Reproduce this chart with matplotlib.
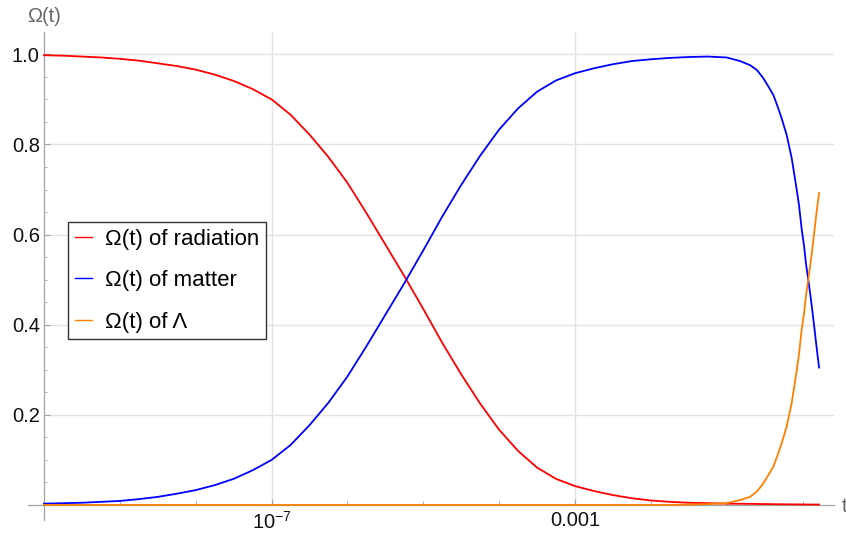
import numpy as np
import matplotlib
matplotlib.use('Agg')
import matplotlib.pyplot as plt
from matplotlib.ticker import FixedLocator, NullFormatter

plt.rcParams['font.family'] = ['Liberation Sans', 'DejaVu Sans']
plt.rcParams['mathtext.fontset'] = 'custom'
plt.rcParams['mathtext.rm'] = 'Liberation Sans'

# ── data: log10(t) and the three Omega(t) curves ──
log_t = [-10.0, -9.75, -9.5, -9.25, -9.0, -8.75, -8.5, -8.25, -8.0, -7.75,
         -7.5, -7.25, -7.0, -6.75, -6.5, -6.25, -6.0, -5.75, -5.5, -5.25,
         -5.0, -4.75, -4.5, -4.25, -4.0, -3.75, -3.5, -3.25, -3.0, -2.75,
         -2.5, -2.25, -2.0, -1.75, -1.5, -1.25, -1.0,
         -0.824, -0.692, -0.60, -0.517, -0.455, -0.385, -0.33, -0.275, -0.209, -0.143,
         -0.077, -0.046, -0.011, 0.02, 0.046, 0.076, 0.112, 0.148, 0.182, 0.218]

omega_rad = [0.998, 0.997, 0.995, 0.993, 0.990, 0.986, 0.980, 0.974, 0.966, 0.955,
             0.941, 0.923, 0.900, 0.866, 0.822, 0.772, 0.715, 0.648, 0.578, 0.508,
             0.435, 0.360, 0.290, 0.225, 0.167, 0.120, 0.083, 0.058, 0.042, 0.031,
             0.022, 0.015, 0.010, 0.007, 0.005, 0.004, 0.003,
             0.0027, 0.0025, 0.0023, 0.002, 0.002, 0.0018, 0.0017, 0.0016, 0.0015, 0.0014,
             0.0013, 0.0013, 0.0012, 0.0012, 0.0011, 0.0011, 0.001, 0.001, 0.001, 0.001]

omega_mat = [0.003, 0.004, 0.005, 0.007, 0.009, 0.013, 0.018, 0.025, 0.033, 0.044,
             0.058, 0.077, 0.100, 0.133, 0.177, 0.227, 0.285, 0.352, 0.422, 0.492,
             0.565, 0.640, 0.710, 0.775, 0.833, 0.880, 0.917, 0.942, 0.958, 0.969,
             0.978, 0.985, 0.989, 0.992, 0.994, 0.995, 0.993,
             0.985, 0.976, 0.965, 0.947, 0.930, 0.910, 0.885, 0.858, 0.821, 0.770,
             0.700, 0.665, 0.612, 0.575, 0.535, 0.500, 0.455, 0.405, 0.355, 0.305]

omega_lam = [0.0, 0.0, 0.0, 0.0, 0.0, 0.0, 0.0, 0.0, 0.0, 0.0,
             0.0, 0.0, 0.0, 0.0, 0.0, 0.0, 0.0, 0.0, 0.0, 0.0,
             0.0, 0.0, 0.0, 0.0, 0.0, 0.0, 0.0, 0.0, 0.0, 0.0,
             0.0, 0.0, 0.0, 0.0, 0.001, 0.002, 0.004,
             0.011, 0.018, 0.030, 0.048, 0.065, 0.085, 0.110, 0.137, 0.174, 0.226,
             0.298, 0.335, 0.390, 0.425, 0.465, 0.500, 0.545, 0.595, 0.645, 0.692]

series_labels = ['\u03a9(t) of radiation', '\u03a9(t) of matter', '\u03a9(t) of \u039b']
series_colors = ['#ff0000', '#0000ff', '#ff8000']

y_major = [0.2, 0.4, 0.6, 0.8, 1.0]
y_labels = ['0.2', '0.4', '0.6', '0.8', '1.0']
x_major = [1e-7, 1e-3]
x_labels = [r'$\mathregular{10^{-7}}$', '0.001']

t = 10.0 ** np.array(log_t)

# ════════════════════════════════════════════════════════
# FIGURE
# ════════════════════════════════════════════════════════
W, H = 846, 538
fig = plt.figure(figsize=(W / 100, H / 100), dpi=100)
ax = fig.add_axes([28 / W, 18 / H, 806 / W, 488 / H])
ax.set_xscale('log')
x_hi = 10 ** 0.415
y_hi = 1.0495
ax.set_xlim(10 ** -10.211, x_hi)
ax.set_ylim(-0.0333, y_hi)

axis_col = '#a3a3a3'
grid_col = '#e3e3e3'

# grid lines only inside the plot range
ax.hlines(y_major, 1e-10, x_hi, color=grid_col, lw=1.0, zorder=0)
ax.vlines(x_major, 0, y_hi, color=grid_col, lw=1.0, zorder=0)

for vals, lab, col in zip([omega_rad, omega_mat, omega_lam], series_labels, series_colors):
    ax.plot(t, vals, color=col, lw=1.3, label=lab, clip_on=False, zorder=3,
            solid_joinstyle='round')

for side in ['top', 'right']:
    ax.spines[side].set_visible(False)
ax.spines['left'].set_position(('data', 1e-10))
ax.spines['bottom'].set_position(('data', 0))
for side in ['left', 'bottom']:
    ax.spines[side].set_color(axis_col)
    ax.spines[side].set_linewidth(0.9)
    ax.spines[side].set_zorder(1)

ax.set_yticks(y_major)
ax.set_yticklabels(y_labels)
ax.yaxis.set_minor_locator(FixedLocator([v / 20 for v in range(1, 21) if v % 4 != 0]))
ax.set_xticks(x_major)
ax.set_xticklabels(x_labels)
ax.xaxis.set_minor_locator(FixedLocator([10.0 ** k for k in range(-10, 1)]))
ax.xaxis.set_minor_formatter(NullFormatter())

ax.tick_params(axis='both', which='both', direction='in', color=axis_col,
               labelcolor='#111111', labelsize=14.5)
ax.tick_params(axis='y', which='major', length=4.5, pad=3)
ax.tick_params(axis='y', which='minor', length=2.5)
ax.tick_params(axis='x', which='major', length=4, pad=4)
ax.tick_params(axis='x', which='minor', length=3)

# axis labels, Mathematica style
fig.text(44 / W, 1 - 16 / H, '\u03a9(t)', ha='center', va='center',
         fontsize=14.5, color='#666666')
fig.text(842 / W, 1 - 507 / H, 't', ha='left', va='center',
         fontsize=14.5, color='#666666')

leg = ax.legend(loc='upper left', bbox_to_anchor=(68 / W, 1 - 222 / H),
                bbox_transform=fig.transFigure, borderaxespad=0,
                fontsize=16, fancybox=False, framealpha=1,
                handlelength=0.8, handletextpad=0.55, labelspacing=0.92,
                borderpad=0.3)
leg.get_frame().set_edgecolor('#333333')
leg.get_frame().set_linewidth(1.0)
for line in leg.get_lines():
    line.set_linewidth(1.0)

fig.savefig('out.png', dpi=100)
